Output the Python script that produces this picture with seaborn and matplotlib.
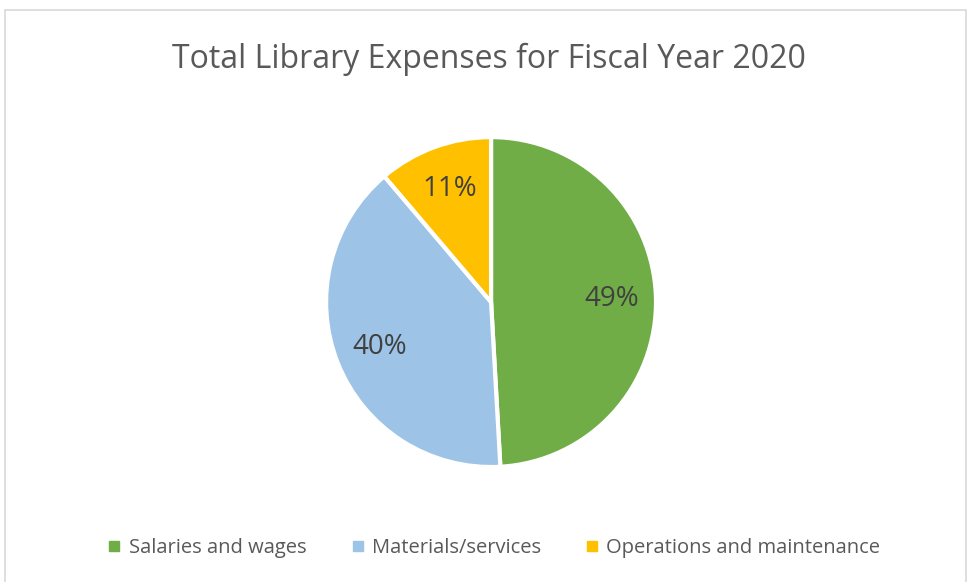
import matplotlib
matplotlib.use("Agg")
import matplotlib.pyplot as plt
from matplotlib.lines import Line2D
from matplotlib.patches import Rectangle
import seaborn as sns

# data
categories = ["Salaries and wages", "Materials/services", "Operations and maintenance"]
shares = [49.1, 39.7, 11.2]
colors = ["#70AD47", "#9DC3E6", "#FFC000"]
title = "Total Library Expenses for Fiscal Year 2020"

sns.set_theme(style="white")
plt.rcParams["font.family"] = ["Open Sans", "DejaVu Sans"]

fig = plt.figure(figsize=(9.72, 5.82), dpi=100)
fig.patch.set_facecolor("white")

# light grey chart-area frame
fig.add_artist(Rectangle((0.005, -0.05), 0.989, 1.033, transform=fig.transFigure,
                         fill=False, edgecolor="#D9D9D9", linewidth=1.2))

ax = fig.add_axes([0.3355, 0.1975, 0.3394, 0.5670])
wedges, texts, autotexts = ax.pie(
    shares, colors=colors, startangle=90, counterclock=False,
    autopct="%1.0f%%", pctdistance=0.73,
    wedgeprops=dict(edgecolor="white", linewidth=3),
    textprops=dict(color="#404040", fontsize=20),
)
ax.set_xlim(-1.0, 1.0)
ax.set_ylim(-1.0, 1.0)
ax.set_aspect("equal")

fig.text(0.503, 0.898, title, ha="center", va="center", fontsize=23, color="#595959")

handles = [Line2D([], [], marker="s", linestyle="", markersize=7.5, color=c) for c in colors]
fig.legend(handles, categories, loc="center", bbox_to_anchor=(0.508, 0.058), ncol=3,
           frameon=False, fontsize=14.5, labelcolor="#595959",
           handletextpad=0.35, columnspacing=2.2, handlelength=0.7)

fig.savefig("out.png", dpi=100)
